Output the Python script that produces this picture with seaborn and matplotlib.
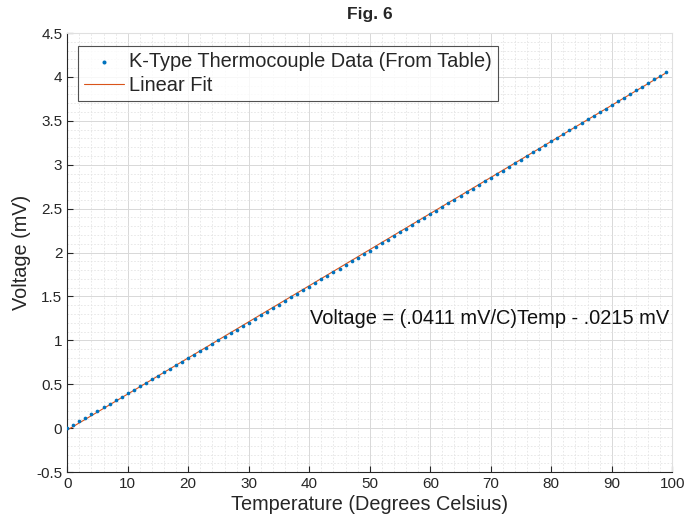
import numpy as np
import pandas as pd
import matplotlib
matplotlib.use("Agg")
import matplotlib.pyplot as plt
from matplotlib.ticker import MultipleLocator
import seaborn as sns

# K-type thermocouple table, 0-99 C
temps = list(range(0, 100))
volts = [0.000, 0.039, 0.079, 0.119, 0.158, 0.198, 0.238, 0.277, 0.317, 0.357,
         0.397, 0.437, 0.477, 0.517, 0.557, 0.597, 0.637, 0.677, 0.718, 0.758,
         0.798, 0.838, 0.879, 0.919, 0.960, 1.000, 1.041, 1.081, 1.122, 1.163,
         1.203, 1.244, 1.285, 1.326, 1.366, 1.407, 1.448, 1.489, 1.530, 1.571,
         1.612, 1.653, 1.694, 1.735, 1.776, 1.817, 1.858, 1.899, 1.941, 1.982,
         2.023, 2.064, 2.106, 2.147, 2.188, 2.230, 2.271, 2.312, 2.354, 2.395,
         2.436, 2.478, 2.519, 2.561, 2.602, 2.644, 2.685, 2.727, 2.768, 2.810,
         2.851, 2.893, 2.934, 2.976, 3.017, 3.059, 3.100, 3.142, 3.184, 3.225,
         3.267, 3.308, 3.350, 3.391, 3.433, 3.474, 3.516, 3.557, 3.599, 3.640,
         3.682, 3.723, 3.765, 3.806, 3.848, 3.889, 3.931, 3.972, 4.013, 4.055]
fit_slope = 0.0411
fit_intercept = -0.0215

df = pd.DataFrame({"Temp": temps, "Voltage": volts})
df["Fit"] = fit_slope * df["Temp"] + fit_intercept

sns.set_style("white")
plt.rcParams["font.family"] = ["Liberation Sans", "DejaVu Sans"]

fig = plt.figure(figsize=(6.86, 5.24), dpi=100)
ax = fig.add_axes([0.098, 0.099, 0.882, 0.838])

sns.scatterplot(data=df, x="Temp", y="Voltage", ax=ax, color="#0072BD", s=7,
                linewidth=0, label="K-Type Thermocouple Data (From Table)", zorder=3)
sns.lineplot(data=df, x="Temp", y="Fit", ax=ax, color="#D95319", linewidth=0.8,
             label="Linear Fit", zorder=2)

ax.set_xlim(0, 100)
ax.set_ylim(-0.5, 4.5)
ax.xaxis.set_major_locator(MultipleLocator(10))
ax.yaxis.set_major_locator(MultipleLocator(0.5))
ax.xaxis.set_minor_locator(MultipleLocator(2))
ax.yaxis.set_minor_locator(MultipleLocator(0.1))
ax.yaxis.set_major_formatter(matplotlib.ticker.FuncFormatter(lambda v, p: f"{v:g}"))
ax.grid(which="major", color="#d8d8d8", linewidth=0.7)
ax.grid(which="minor", color="#e4e4e4", linewidth=0.6, linestyle=(0, (2, 2)))
ax.set_axisbelow(True)
ax.tick_params(which="major", direction="in", length=4, labelsize=11,
               color="#262626", labelcolor="#262626", top=False, right=False)
ax.tick_params(which="minor", length=0)
for side in ["top", "right"]:
    ax.spines[side].set_color("#e0e0e0")
for side in ["left", "bottom"]:
    ax.spines[side].set_color("#262626")
    ax.spines[side].set_linewidth(0.8)
ax.tick_params(axis="x", bottom=True)
ax.tick_params(axis="y", left=True)

ax.set_xlabel("Temperature (Degrees Celsius)", fontsize=14.3, color="#262626", labelpad=3)
ax.set_ylabel("Voltage (mV)", fontsize=14.3, color="#262626")
ax.set_title("Fig. 6", fontsize=12.5, fontweight="bold", pad=10)

ax.text(40.2, 1.14, "Voltage = (.0411 mV/C)Temp - .0215 mV", fontsize=14.4,
        color="#111111", va="bottom")

leg = ax.legend(loc="upper left", bbox_to_anchor=(0.018, 0.97), fontsize=14.4,
                frameon=True, fancybox=False, edgecolor="#262626",
                borderpad=0.3, labelspacing=0.25, handlelength=2.0,
                handletextpad=0.25, borderaxespad=0, markerscale=1.1)
leg.get_frame().set_linewidth(0.8)

fig.savefig("out.png", dpi=100)
